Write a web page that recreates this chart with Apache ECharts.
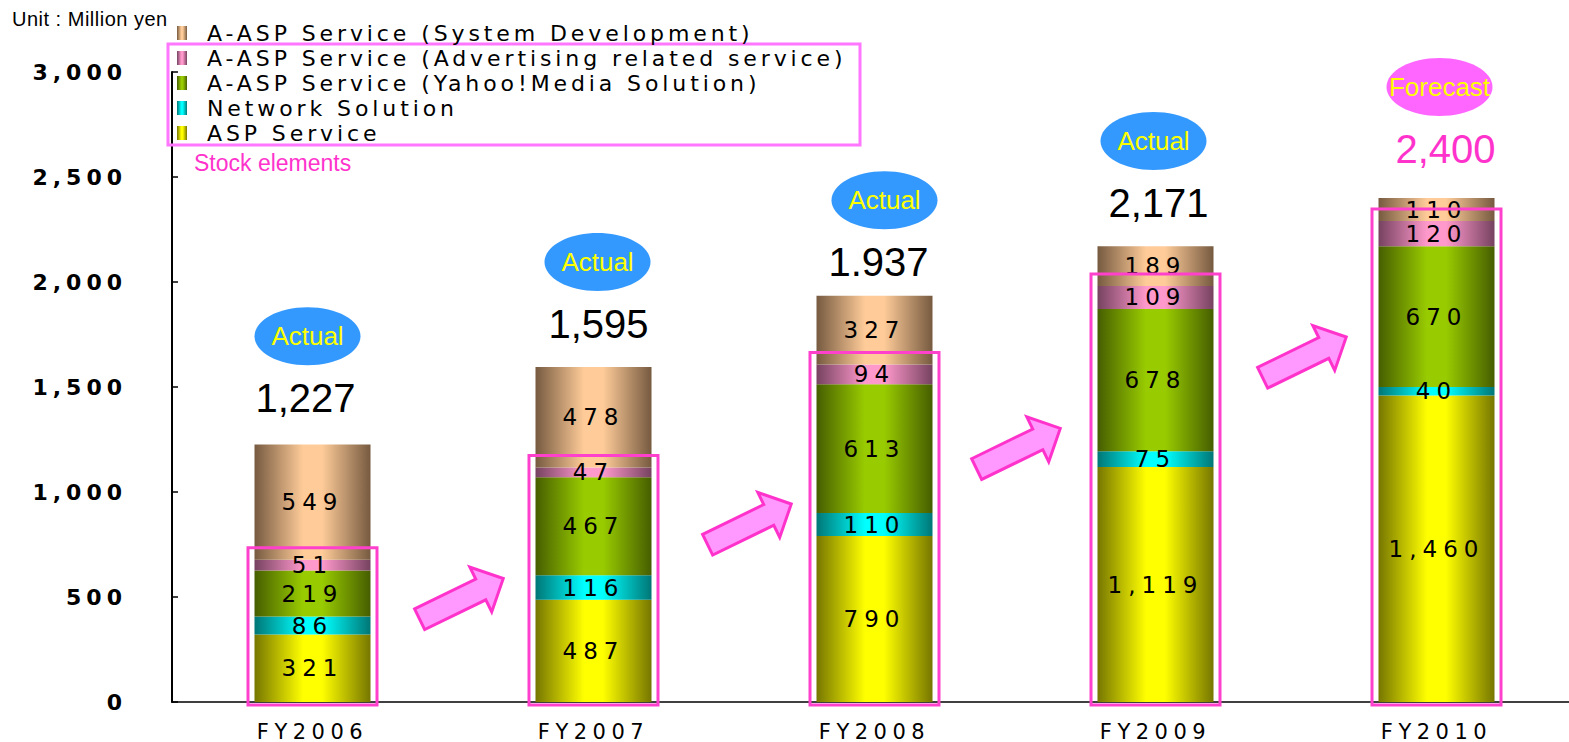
<!DOCTYPE html>
<html><head><meta charset="utf-8">
<script src="https://cdn.jsdelivr.net/npm/echarts@6/dist/echarts.min.js"></script>
<style>
html,body{margin:0;padding:0;background:#fff;}
#c{width:1569px;height:742px;}
#c text[style*="lsLeg"]{letter-spacing:3.9px;}
#c text[style*="lsY"]{letter-spacing:5px;}
#c text[style*="lsX"]{letter-spacing:5.5px;}
#c text[style*="lsBar"]{letter-spacing:6px;}
#c text[style*="lsUnit"]{letter-spacing:0.5px;}
</style></head><body><div id="c"></div>
<script>
// ---- data ----
const categories = ['FY2006', 'FY2007', 'FY2008', 'FY2009', 'FY2010'];
const aspService = [321, 487, 790, 1119, 1460];
const networkSolution = [86, 116, 110, 75, 40];
const yahooMedia = [219, 467, 613, 678, 670];
const advertising = [51, 47, 94, 109, 120];
const systemDev = [549, 478, 327, 189, 110];
const totals = [1227, 1595, 1937, 2171, 2400];
const totalLabels = ['1,227', '1,595', '1.937', '2,171', '2,400'];
const status = ['Actual', 'Actual', 'Actual', 'Actual', 'Forecast'];
const yTicks = [0, 500, 1000, 1500, 2000, 2500, 3000];
const seriesNames = [
  'ASP Service',
  'Network Solution',
  'A-ASP Service (Yahoo!Media Solution)',
  'A-ASP Service (Advertising related service)',
  'A-ASP Service (System Development)'
];

// ---- layout (pixels) ----
const labelLift = [46, 43, 33, 43, 49];
const labelDx = [-7, 5, 4, 3, 9];
const ellipseDx = [-5, 4, 10, -2, 3];
const arrowLevels = [490, 845, 1205, 1640];
const arrowDx = [8, 15, 3, 8];

const seriesData = [aspService, networkSolution, yahooMedia, advertising, systemDev];
const stock = categories.map((c, i) => aspService[i] + networkSolution[i] + yahooMedia[i] + advertising[i]);

function grad(dark, light) {
  return new echarts.graphic.LinearGradient(0, 0, 1, 0, [
    { offset: 0, color: dark }, { offset: 0.42, color: light },
    { offset: 0.58, color: light }, { offset: 1, color: dark }
  ]);
}
const colors = [
  grad('#767600', '#ffff00'),
  grad('#007676', '#00ffff'),
  grad('#465e00', '#99cc00'),
  grad('#764260', '#ff99cc'),
  grad('#765a40', '#ffcc99')
];

const chart = echarts.init(document.getElementById('c'), null, { renderer: 'svg' });

const barSeries = seriesNames.map((name, k) => ({
  type: 'bar', name: name, stack: 'total', barWidth: 116,
  data: seriesData[k],
  itemStyle: { color: colors[k] },
  label: {
    show: true, position: 'inside', color: '#000', fontSize: 23,
    fontFamily: "'DejaVu Sans', lsBar",
    formatter: p => p.value.toLocaleString('en-US')
  },
  z: 2
}));

const option = {
  animation: false,
  backgroundColor: '#fff',
  grid: { left: 172, top: 72, bottom: 40, width: 1405, containLabel: false, outerBoundsMode: 'none' },
  legend: {
    data: seriesNames.slice().reverse(),
    orient: 'vertical', left: 177, top: 22, padding: 0,
    itemWidth: 10, itemHeight: 14, itemGap: 3, icon: 'rect',
    selectedMode: false,
    textStyle: { fontSize: 22, fontFamily: "'DejaVu Sans', lsLeg", color: '#000', lineHeight: 20, padding: [0, 0, 0, 15] }
  },
  xAxis: {
    type: 'category', data: categories,
    axisLine: { lineStyle: { color: '#000', width: 1.5 } },
    axisTick: { inside: true, length: 5, lineStyle: { color: '#000', width: 1.5 } },
    axisLabel: { color: '#000', fontSize: 21, fontFamily: "'DejaVu Sans', lsX", margin: 19 }
  },
  yAxis: {
    type: 'value', min: yTicks[0], max: yTicks[yTicks.length - 1], interval: yTicks[1] - yTicks[0],
    splitLine: { show: false },
    axisLine: { show: true, lineStyle: { color: '#000', width: 2 } },
    axisTick: { show: true, inside: true, length: 6, lineStyle: { color: '#000', width: 1.5 } },
    axisLabel: {
      color: '#000', fontSize: 22, fontWeight: 'bold', fontFamily: "'DejaVu Sans', lsY", margin: 45,
      formatter: v => v.toLocaleString('en-US')
    }
  },
  series: barSeries.concat([
    {
      type: 'custom', name: 'stockBox', silent: true, z: 5,
      data: stock.map((s, i) => [i, s]),
      renderItem: (params, api) => {
        const i = api.value(0);
        const top = api.coord([i, api.value(1)]);
        const base = api.coord([i, 0]);
        const w = 129;
        const y0 = top[1] - 12;
        return {
          type: 'rect',
          shape: { x: top[0] - w / 2, y: y0, width: w, height: base[1] + 3 - y0 },
          style: { fill: 'none', stroke: '#ff40cc', lineWidth: 3 }
        };
      }
    },
    {
      type: 'custom', name: 'totals', silent: true, z: 6,
      data: totals.map((t, i) => [i, t]),
      renderItem: (params, api) => {
        const i = api.value(0);
        const p = api.coord([i, api.value(1)]);
        const ly = p[1] - labelLift[i];
        const ey = ly - 62;
        const fc = status[i] === 'Forecast';
        return {
          type: 'group',
          children: [
            { type: 'ellipse', shape: { cx: p[0] + ellipseDx[i], cy: ey, rx: 53, ry: 29 },
              style: { fill: fc ? '#ff66ff' : '#3399ff' } },
            { type: 'text', x: p[0] + ellipseDx[i], y: ey,
              style: { text: status[i], fill: '#ffff00', fontSize: 26, fontFamily: "'Liberation Sans'", align: 'center', verticalAlign: 'middle' } },
            { type: 'text', x: p[0] + labelDx[i], y: ly,
              style: { text: totalLabels[i], fill: fc ? '#ff33cc' : '#000', fontSize: 40, fontFamily: "'Liberation Sans'", align: 'center', verticalAlign: 'middle' } }
          ]
        };
      }
    }
  ]),
  graphic: [
    { type: 'text', left: 12, top: 9, style: { text: 'Unit : Million yen', fill: '#000', fontSize: 20, fontFamily: "'Liberation Sans', lsUnit" } },
    { type: 'rect', shape: { x: 168, y: 44, width: 692, height: 101 }, style: { fill: 'none', stroke: '#ff77ff', lineWidth: 3 }, z: 1 },
    { type: 'text', left: 194, top: 151, style: { text: 'Stock elements', fill: '#ff33cc', fontSize: 23, fontFamily: "'Liberation Sans'" } }
  ]
};
chart.setOption(option);

// arrows between bars
const arrowPts = [[-46, -11.5], [22, -11.5], [22, -25], [47, 0], [22, 25], [22, 11.5], [-46, 11.5]];
const arrows = arrowLevels.map((lv, i) => {
  const a = chart.convertToPixel({ xAxisIndex: 0, yAxisIndex: 0 }, [i, lv]);
  const b = chart.convertToPixel({ xAxisIndex: 0, yAxisIndex: 0 }, [i + 1, lv]);
  return {
    type: 'polygon', x: (a[0] + b[0]) / 2 + arrowDx[i], y: a[1],
    rotation: 26 * Math.PI / 180,
    shape: { points: arrowPts },
    style: { fill: '#ff99ff', stroke: '#ff33cc', lineWidth: 3 },
    z: 10
  };
});
chart.setOption({ graphic: option.graphic.concat(arrows) });
</script></body></html>
